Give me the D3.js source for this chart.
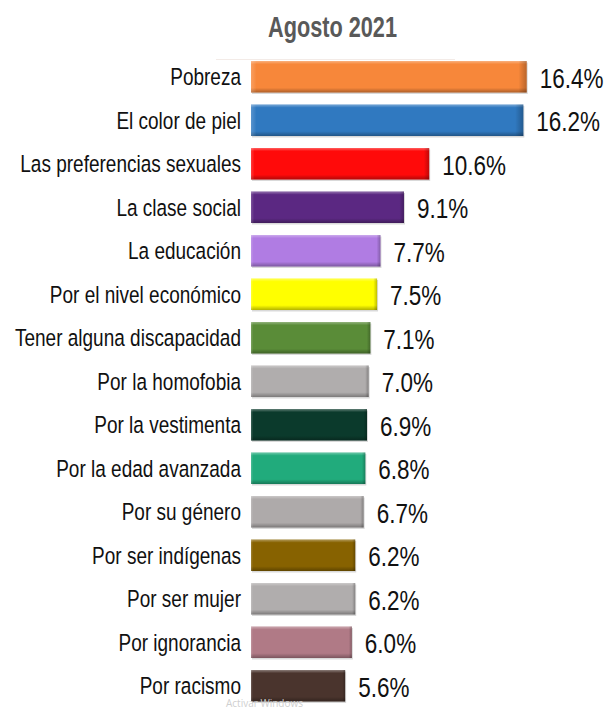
<!DOCTYPE html>
<html>
<head>
<meta charset="utf-8">
<script src="https://cdn.jsdelivr.net/npm/d3@7"></script>
<style>
  html, body { margin: 0; padding: 0; background: #fff; }
  svg { display: block; }
</style>
</head>
<body>
<svg id="chart" width="605" height="713"></svg>
<script>
const title = "Agosto 2021";
const categories = [
  "Pobreza", "El color de piel", "Las preferencias sexuales", "La clase social",
  "La educación", "Por el nivel económico", "Tener alguna discapacidad",
  "Por la homofobia", "Por la vestimenta", "Por la edad avanzada",
  "Por su género", "Por ser indígenas", "Por ser mujer", "Por ignorancia", "Por racismo"
];
const values = [16.4, 16.2, 10.6, 9.1, 7.7, 7.5, 7.1, 7.0, 6.9, 6.8, 6.7, 6.2, 6.2, 6.0, 5.6];
const colors = [
  "#f7873a", "#3079c0", "#ff0a0a", "#5b2882", "#b07ce3", "#ffff00", "#5a8c38",
  "#b0adad", "#0b3a2c", "#21ab7c", "#aeaaaa", "#876200", "#b0adad", "#b07a86", "#4a342d"
];
const valueLabels = values.map(v => v.toFixed(1) + "%");

const svg = d3.select("#chart");
const defs = svg.append("defs");

const gV = defs.append("linearGradient").attr("id", "bevelV")
  .attr("x1", 0).attr("y1", 0).attr("x2", 0).attr("y2", 1);
gV.append("stop").attr("offset", "0%").attr("stop-color", "#fff").attr("stop-opacity", 0.35);
gV.append("stop").attr("offset", "10%").attr("stop-color", "#fff").attr("stop-opacity", 0.0);
gV.append("stop").attr("offset", "85%").attr("stop-color", "#000").attr("stop-opacity", 0.0);
gV.append("stop").attr("offset", "100%").attr("stop-color", "#000").attr("stop-opacity", 0.3);

const gH = defs.append("linearGradient").attr("id", "bevelH")
  .attr("x1", 0).attr("y1", 0).attr("x2", 1).attr("y2", 0);
gH.append("stop").attr("offset", "0%").attr("stop-color", "#fff").attr("stop-opacity", 0.2);
gH.append("stop").attr("offset", "2%").attr("stop-color", "#fff").attr("stop-opacity", 0.0);
gH.append("stop").attr("offset", "97%").attr("stop-color", "#000").attr("stop-opacity", 0.0);
gH.append("stop").attr("offset", "100%").attr("stop-color", "#000").attr("stop-opacity", 0.25);

const x = d3.scaleLinear().domain([0, 16.4]).range([251, 526.7]);
const y = d3.scaleBand().domain(categories)
  .range([55, 55 + 15 * 43.5]).paddingInner(0.276).paddingOuter(0.138);

// title
svg.append("text")
  .attr("transform", "translate(332.5,37) scale(1,1.38)")
  .attr("text-anchor", "middle")
  .style("font-family", "'Liberation Sans', Arial, sans-serif")
  .style("font-weight", "bold")
  .style("font-size", "21.7px")
  .style("fill", "#595959")
  .text(title);

svg.append("line")
  .attr("x1", 216).attr("x2", 455).attr("y1", 59.5).attr("y2", 59.5)
  .attr("stroke", "#f3ebe7").attr("stroke-width", 1);

const rows = svg.append("g").selectAll("g").data(categories).join("g");

// shadow
rows.append("rect")
  .attr("x", d => x(0) + 1)
  .attr("y", d => y(d) + 1.5)
  .attr("width", (d, i) => x(values[i]) - x(0))
  .attr("height", y.bandwidth())
  .attr("fill", "#d9d9d9");

rows.append("rect")
  .attr("x", x(0))
  .attr("y", d => y(d))
  .attr("width", (d, i) => x(values[i]) - x(0))
  .attr("height", y.bandwidth())
  .attr("fill", (d, i) => colors[i]);

rows.append("rect")
  .attr("x", x(0))
  .attr("y", d => y(d))
  .attr("width", (d, i) => x(values[i]) - x(0))
  .attr("height", y.bandwidth())
  .attr("fill", "url(#bevelV)");

rows.append("rect")
  .attr("x", x(0))
  .attr("y", d => y(d))
  .attr("width", (d, i) => x(values[i]) - x(0))
  .attr("height", y.bandwidth())
  .attr("fill", "url(#bevelH)");

// category labels
rows.append("text")
  .attr("transform", d => `translate(241,${y(d) + y.bandwidth() / 2}) scale(1,1.26)`)
  .attr("dy", "0.35em")
  .attr("text-anchor", "end")
  .style("font-family", "'Liberation Sans', Arial, sans-serif")
  .style("font-size", "19px")
  .style("fill", "#111")
  .text(d => d);

// value labels
rows.append("text")
  .attr("transform", (d, i) => `translate(${x(values[i]) + 13},${y(d) + y.bandwidth() / 2 + 1}) scale(1,1.25)`)
  .attr("dy", "0.35em")
  .attr("text-anchor", "start")
  .style("font-family", "'Liberation Sans', Arial, sans-serif")
  .style("font-size", "22.5px")
  .style("fill", "#111")
  .text((d, i) => valueLabels[i]);

// watermark (kept fully inside the picture, below the last label)
svg.append("text")
  .attr("x", 226).attr("y", 707)
  .style("font-family", "'Open Sans', 'DejaVu Sans', sans-serif")
  .style("font-size", "10px")
  .style("fill", "#cfcfcf")
  .text("Activar Windows");
</script>
</body>
</html>
